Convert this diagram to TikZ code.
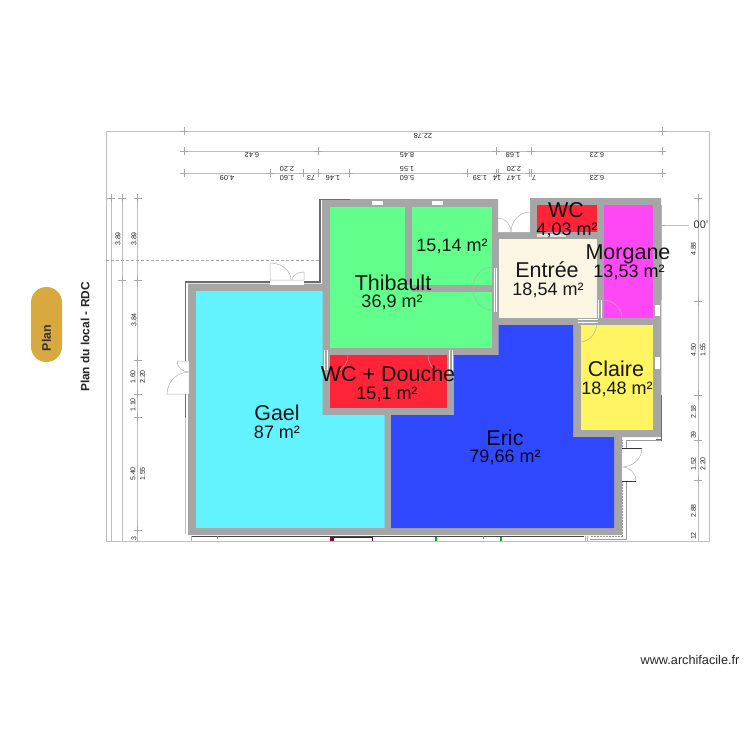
\documentclass[tikz,border=0pt]{standalone}
\usepackage{fontspec}
\setmainfont{Liberation Sans}
\definecolor{wallc}{HTML}{A6A6A6}
\definecolor{dimc}{HTML}{BEBEBE}
\definecolor{tickc}{HTML}{A8A8A8}
\definecolor{gaelc}{HTML}{62F3FF}
\definecolor{thibc}{HTML}{62FF8C}
\definecolor{redc}{HTML}{FF2438}
\definecolor{ericc}{HTML}{3049FF}
\definecolor{entc}{HTML}{FBF5E4}
\definecolor{morc}{HTML}{FF48F5}
\definecolor{clac}{HTML}{FFF462}
\definecolor{pillc}{HTML}{D8A93E}
\tikzset{
  wall/.style={fill=wallc,draw=none},
  darkline/.style={draw=gray!85!black,line width=1.4pt},
  dimline/.style={draw=dimc,line width=.8pt},
  doorline/.style={draw=gray!60,line width=.5pt},
  winbox/.style={fill=white,draw=none},
  rname/.style={font=\fontsize{21.5}{22}\selectfont,text=black,text opacity=.9,inner sep=0pt},
  rarea/.style={font=\fontsize{18}{19}\selectfont,text=black,text opacity=.9,inner sep=0pt},
  dimv/.style={font=\fontsize{7}{8}\selectfont,text=black!85,rotate=90,inner sep=0pt},
  dimh/.style={font=\fontsize{7.3}{8}\selectfont,text=black!85,rotate=180,inner sep=0pt},
  pics/tk/.style={code={\draw[tickc,line width=.5pt] (-4,0)--(4,0) (0,-4)--(0,4);}}
}
\begin{document}
\begin{tikzpicture}[x=1pt,y=-1pt]
\useasboundingbox (0,0) rectangle (750,750);
\fill[white] (0,0) rectangle (750,750);

% frame and dimension lines
\draw[dimline] (106,131) rectangle (709.5,541.5);
\draw[dimline] (184,151)--(662,151);
\draw[dimline] (184,173)--(662,173);
\draw[dimline] (111,198)--(111,541);
\draw[dimline] (122,198)--(122,541);
\draw[dimline] (137.5,198)--(137.5,541);
\draw[dimline] (698,198)--(698,541);
\draw[dimline] (662,225)--(689,225);
\draw[draw=gray!70,line width=.5pt,densely dashed] (106,260)--(319,260);
\foreach \p in {(184,131),(662,131),(184,151),(318,151),(496,151),(531,151),(662,151),
 (184,173),(270,173),(303,173),(318,173),(349,173),(467,173),(496,173),(498,173),(529,173),(531,173),(662,173),
 (111,198),(122,198),(137.5,198),(122,280),(137.5,280),(137.5,360),(137.5,394),(137.5,417),(137.5,530),
 (698,198),(698,301),(698,395),(698,440),(698,480),(661,225)}
  \path \p pic {tk};

% wall mass
\fill[wall] (188,283.5)--(322,283.5)--(322,199)--(498,199)--(498,232)--(530,232)--(530,198)--(661,198)
 --(661,437)--(622,437)--(622,535)--(188,535)--cycle;
% rooms
\fill[gaelc] (196,291)--(322.5,291)--(322.5,415)--(384.5,415)--(384.5,528)--(196,528)--cycle;
\fill[thibc] (330,207) rectangle (492,348);
\fill[wall] (404.5,207) rectangle (411.5,285);
\fill[wall] (411.5,285) rectangle (492,291.5);
\fill[redc] (330,355) rectangle (447,408);
\fill[ericc] (391,415)--(454,415)--(454,355)--(498.5,355)--(498.5,325)--(573,325)--(573,437)--(614,437)--(614,528)--(391,528)--cycle;
\fill[entc] (498.5,239) rectangle (597,318);
\fill[redc] (537,205) rectangle (597,232);
\fill[morc] (604,205) rectangle (653,318);
\fill[clac] (581,325) rectangle (653,430);

% outlines of outer walls
\draw[darkline] (185.5,417)--(185.5,282)--(320,282)--(320,199.5)--(350,199.5);
\draw[draw=gray!50,line width=1pt] (185.5,417)--(185.5,534);
\draw[draw=gray!60,line width=1.2pt] (661.5,205)--(661.5,300);
\draw[draw=gray!30,line width=1.4pt] (661.5,300)--(661.5,395);
\draw[draw=gray!85!black,line width=1.2pt] (661.5,395)--(661.5,440)--(656,440);
\draw[draw=gray!80,line width=.7pt] (626,440)--(661,440);
\draw[draw=gray!80,line width=1pt] (626,440)--(626,539)--(590,539);
\draw[draw=gray!80,line width=.5pt,densely dotted] (622.5,440)--(622.5,536)--(590,536);

% windows
\fill[winbox] (372,201) rectangle (383,205);
\fill[winbox] (432,201) rectangle (443,205);
\fill[winbox] (655,305) rectangle (660,316);
\fill[winbox] (654.5,357) rectangle (659.5,369);
\fill[gray!25] (537,233.5) rectangle (566,237);

% doors: exterior
\fill[white] (270,280) rectangle (304,284.5);
\fill[white] (184,361) rectangle (189,394);
\fill[white] (622,448) rectangle (627,481);
\draw[doorline] (270,280)--(304,280) (270,280)--(270,263) arc (-90:0:21 and 17)
  (304,280)--(304,272) arc (-90:-180:12 and 8);
\draw[doorline] (177,361)--(189,361) (177,361) arc (180:90:12 and 11)
  (189,394)--(167,394) arc (180:270:22 and 22) (189,361)--(189,394);
\draw[draw=gray!40!black,line width=.7pt] (622,448)--(642,448) (622,481)--(636,481);
\draw[doorline] (642,448) arc (0:90:20 and 19) (636,481) arc (0:-90:14 and 14);
% doors near the WC
\draw[doorline] (498,232)--(530,232);
\draw[doorline] (498,218) arc (-90:0:13 and 14);
\draw[doorline] (530,212) arc (-90:-180:19 and 20);
% doors: interior
\draw[draw=white,line width=.7pt] (494,268)--(494,312) (496.5,268)--(496.5,312);
\draw[doorline] (492,267) arc (-90:-270:19 and 21.5);
\draw[draw=white,line width=.7pt] (598.5,300)--(598.5,318) (601.5,300)--(601.5,318);
\draw[doorline] (603,300) arc (-90:0:19 and 18);
\draw[draw=white,line width=.7pt] (578,319)--(598,319) (578,322)--(598,322);
\draw[doorline] (597,322) arc (0:90:17 and 20);
\draw[draw=white,line width=.7pt] (324,350)--(324,370) (327.5,350)--(327.5,370);
\draw[doorline] (348,355) arc (0:60:18 and 18);
\draw[doorline] (428,355) arc (180:130:19 and 19);
\draw[draw=white,line width=1pt] (449,350)--(449,375) (452,350)--(452,375);

% bottom strip
\fill[white] (191,536) rectangle (584,541);
\draw[draw=gray!55!black,line width=1pt] (191,536.2)--(584,536.2);
\draw[draw=gray!60,line width=.5pt] (191,536)--(191,541) (585,536)--(585,541) (587,536)--(587,541);
\draw[draw=gray,line width=.5pt] (217,536)--(217,539) (483,536)--(483,539);
\fill[red!70!black] (330,536.5) rectangle (333,541);
\draw[draw=violet!80!black,line width=1.6pt] (333,541)--(333,537.3)--(372.5,537.3)--(372.5,541);
\draw[draw=green!70!black,line width=2pt] (436,536.5)--(436,541);
\draw[draw=green!70!black,line width=2pt] (501,536.5)--(501,541);

% dimension labels
\node[dimh] (d1) at (423,136) {22.78};
\node[dimh] (d2) at (252,155.5) {6.42};
\node[dimh] (d3) at (407,155.5) {8.45};
\node[dimh] (d4) at (513,155.5) {1.68};
\node[dimh] (d5) at (597,155.5) {6.23};
\node[dimh] (d6) at (227,178) {4.09};
\node[dimh] (d7) at (287,178) {1.60};
\node[dimh] (d8) at (287,169) {2.20};
\node[dimh] (d9) at (311,178) {73};
\node[dimh] (d10) at (333,178) {1.46};
\node[dimh] (d11) at (407,178) {5.60};
\node[dimh] (d12) at (407,169) {1.55};
\node[dimh] (d13) at (480,178) {1.39};
\node[dimh] (d14) at (497,178) {14};
\node[dimh] (d15) at (514,178) {1.47};
\node[dimh] (d16) at (514,169) {2.20};
\node[dimh] (d17) at (534,178) {7};
\node[dimh] (d18) at (597,178) {6.23};
\node[dimv] (l1) at (118,239) {3.89};
\node[dimv] (l2) at (134,239) {3.89};
\node[dimv] (l3) at (134,320) {3.84};
\node[dimv] (l4) at (133,377) {1.60};
\node[dimv] (l5) at (142.5,377) {2.20};
\node[dimv] (l6) at (133,405) {1.10};
\node[dimv] (l7) at (133,474) {5.40};
\node[dimv] (l8) at (142.5,474) {1.55};
\node[dimv] (l9) at (134,538.5) {3};
\node[dimv] (r1) at (693.5,249) {4.88};
\node[dimv] (r2) at (693.5,350) {4.50};
\node[dimv] (r3) at (703,350) {1.55};
\node[dimv] (r4) at (693.5,412) {2.18};
\node[dimv] (r5) at (693.5,435) {39};
\node[dimv] (r6) at (693.5,464) {1.52};
\node[dimv] (r7) at (703,464) {2.20};
\node[dimv] (r8) at (693.5,511) {2.88};
\node[dimv] (r9) at (693.5,536) {12};
\node[font=\fontsize{11}{12}\selectfont,text=black!80,inner sep=0pt] (r10) at (701,225) {00'};

% room labels
\node[rname] (n1) at (277,413) {Gael};
\node[rarea] (a1) at (277,432) {87 m²};
\node[rname] (n2) at (393,283) {Thibault};
\node[rarea] (a2) at (392,302) {36,9 m²};
\node[rarea] (a3) at (452,246) {15,14 m²};
\node[rname] (n4) at (388,374) {WC + Douche};
\node[rarea] (a4) at (387,394) {15,1 m²};
\node[rname] (n5) at (505,438) {Eric};
\node[rarea] (a5) at (505,457) {79,66 m²};
\node[rname] (n6) at (547,270) {Entrée};
\node[rarea] (a6) at (548,290) {18,54 m²};
\node[rname] (n7) at (566,210) {WC};
\node[rarea] (a7) at (567,230) {4,03 m²};
\node[rname] (n8) at (628,254) {Morgane};
\node[rarea] (a8) at (629,272) {13,53 m²};
\node[rname] (n9) at (616,369) {Claire};
\node[rarea] (a9) at (617,389) {18,48 m²};

% side titles
\fill[pillc,rounded corners=15.4pt] (31,287) rectangle (62,362);
\node[rotate=90,font=\bfseries\fontsize{12.4}{13}\selectfont,text=black!80,inner sep=0pt] (plan) at (46.5,338) {Plan};
\node[rotate=90,font=\bfseries\fontsize{11.9}{13}\selectfont,text=black!85,inner sep=0pt] (title) at (85,337) {Plan du local - RDC};
\node[font=\fontsize{12.7}{14}\selectfont,text=black!85,inner sep=0pt] (wm) at (690,660) {www.archifacile.fr};
\end{tikzpicture}
\end{document}
